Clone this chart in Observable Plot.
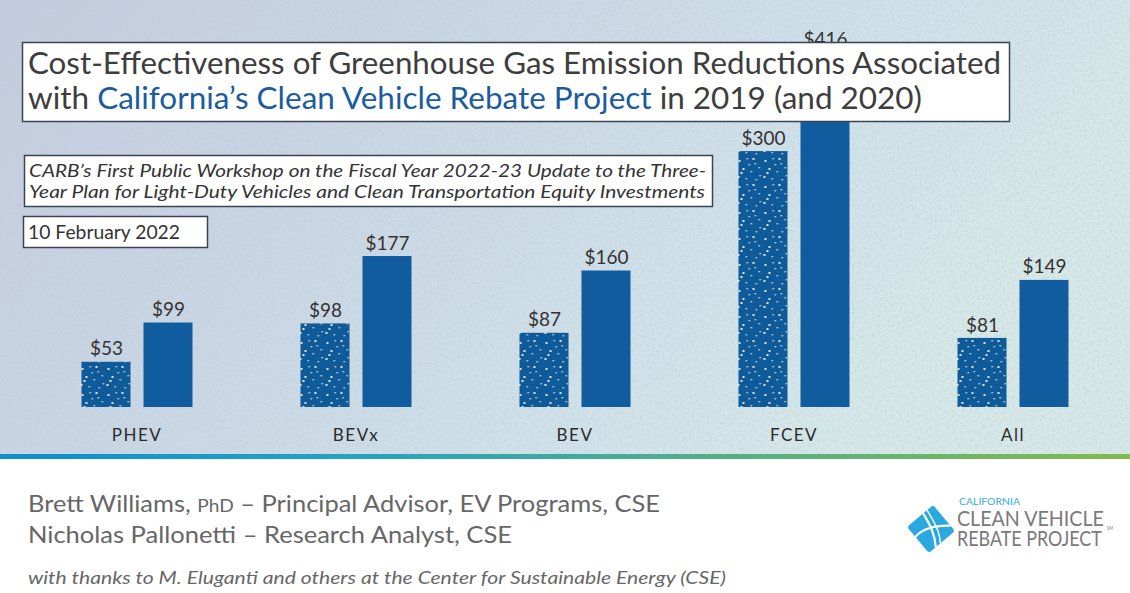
<!DOCTYPE html>
<html>
<head>
<meta charset="utf-8">
<script src="https://cdn.jsdelivr.net/npm/d3@7"></script>
<script src="https://cdn.jsdelivr.net/npm/@observablehq/plot@0.6"></script>
<style>
  html, body { margin: 0; padding: 0; background: #ffffff; }
  #stage { position: relative; width: 1130px; height: 593px; overflow: hidden; background: #ffffff; font-family: Lato, "Open Sans", sans-serif; }
  #bg, #chart, #overlay { position: absolute; left: 0; top: 0; }
  #overlay { pointer-events: none; }
  #chart svg { overflow: visible; }
</style>
</head>
<body>
<div id="stage">
  <svg id="bg" width="1130" height="593"></svg>
  <div id="chart"></div>
  <svg id="overlay" width="1130" height="593"></svg>
</div>
<script>
// ---------------- data ----------------
const categories = ["PHEV", "BEVx", "BEV", "FCEV", "All"];
const years = ["2019", "2020"];
const values2019 = [53, 98, 87, 300, 81];
const values2020 = [99, 177, 160, 416, 149];

const titleLine1 = "Cost-Effectiveness of Greenhouse Gas Emission Reductions Associated";
const titleLine2Pre = "with ";
const titleLine2Blue = "California\u2019s Clean Vehicle Rebate Project";
const titleLine2Post = " in 2019 (and 2020)";
const subtitleLines = [
  "CARB\u2019s First Public Workshop on the Fiscal Year 2022-23 Update to the Three-",
  "Year Plan for Light-Duty Vehicles and Clean Transportation Equity Investments"
];
const dateText = "10 February 2022";
const author1 = ["Brett Williams, ", "PhD", " \u2013 Principal Advisor, EV Programs, CSE"];
const author2 = "Nicholas Pallonetti \u2013 Research Analyst, CSE";
const thanks = "with thanks to M. Eluganti and others at the Center for Sustainable Energy (CSE)";
const logoLines = ["CALIFORNIA", "CLEAN VEHICLE", "REBATE PROJECT", "SM"];

const rows = categories.flatMap((c, i) => [
  {cat: c, year: years[0], value: values2019[i]},
  {cat: c, year: years[1], value: values2020[i]}
]);

// ---------------- background ----------------
const bg = d3.select("#bg");
const bdefs = bg.append("defs");
const lg = bdefs.append("linearGradient").attr("id", "bgGrad").attr("x1", "0").attr("y1", "0").attr("x2", "1").attr("y2", "0.35");
[["0%", "#c4cbdf"], ["40%", "#c9d7e5"], ["75%", "#d0e2ea"], ["100%", "#d6e9e8"]].forEach(([o, c]) => lg.append("stop").attr("offset", o).attr("stop-color", c));
const strip = bdefs.append("linearGradient").attr("id", "stripGrad");
[["0%", "#0a8fd2"], ["30%", "#22a2c4"], ["60%", "#4daf8c"], ["100%", "#82ba4b"]].forEach(([o, c]) => strip.append("stop").attr("offset", o).attr("stop-color", c));
const noise = bdefs.append("filter").attr("id", "noise").attr("x", 0).attr("y", 0).attr("width", "100%").attr("height", "100%");
noise.append("feTurbulence").attr("type", "fractalNoise").attr("baseFrequency", "0.4").attr("numOctaves", 2).attr("seed", 3);
noise.append("feColorMatrix").attr("type", "matrix").attr("values", "0 0 0 0 0.55  0 0 0 0 0.6  0 0 0 0 0.65  0 0 0 -2.6 1.5");
bg.append("rect").attr("x", 0).attr("y", 0).attr("width", 1130).attr("height", 456).attr("fill", "url(#bgGrad)");
bg.append("rect").attr("x", 0).attr("y", 0).attr("width", 1130).attr("height", 456).attr("filter", "url(#noise)").attr("opacity", 0.45);
bg.append("rect").attr("x", 0).attr("y", 454).attr("width", 1130).attr("height", 5).attr("fill", "url(#stripGrad)");

// ---------------- chart ----------------
const barBlue = "#105c9e";
const chart = Plot.plot({
  width: 1130,
  height: 460,
  marginLeft: 26.5,
  marginRight: 8.5,
  marginTop: 0,
  marginBottom: 53,
  style: {background: "transparent", fontFamily: "Lato, 'Open Sans', sans-serif", color: "#333333", overflow: "visible"},
  fx: {domain: categories, padding: 0, label: null},
  x: {domain: years, paddingInner: 0.21, paddingOuter: 0.871, axis: null},
  y: {domain: [0, 400], range: [407, 65.8], axis: null},
  marks: [
    Plot.barY(rows.filter(d => d.year === years[0]), {fx: "cat", x: "year", y: "value", fill: "url(#dots)"}),
    Plot.barY(rows.filter(d => d.year === years[1]), {fx: "cat", x: "year", y: "value", fill: barBlue}),
    Plot.text(rows, {fx: "cat", x: "year", y: "value", text: d => "$" + d.value, dy: -13, fontSize: 19, fill: "#333333"}),
    Plot.axisFx({anchor: "bottom", tickSize: 0, tickPadding: 21, fontSize: 17, label: null, fill: "#2b2b2b"})
  ]
});
document.getElementById("chart").appendChild(chart);

// dotted pattern for 2019 bars
const svgSel = d3.select(chart.tagName.toLowerCase() === "svg" ? chart : chart.querySelector("svg"));
const pdefs = svgSel.insert("defs", ":first-child");
const pat = pdefs.append("pattern").attr("id", "dots").attr("patternUnits", "userSpaceOnUse").attr("width", 26).attr("height", 26);
pat.append("rect").attr("width", 26).attr("height", 26).attr("fill", "#0f5a99");
const dotPts = [[3,4],[11,2],[19,7],[7,12],[15,15],[23,11],[2,20],[10,22],[20,23],[17,2],[13,8],[24,19],[5,16]];
dotPts.forEach(([x, y], i) => pat.append("rect").attr("x", x).attr("y", y).attr("width", i % 3 === 0 ? 2 : 1.4).attr("height", i % 3 === 0 ? 2 : 1.4).attr("fill", "#ffffff").attr("opacity", 0.85));
svgSel.selectAll("g[aria-label='fx-axis tick label'] text").style("letter-spacing", "1.5px");

// ---------------- overlay: boxes and texts ----------------
const ov = d3.select("#overlay");
const ink = "#3d3d3d";
function box(x, y, w, h) {
  ov.append("rect").attr("x", x).attr("y", y).attr("width", w).attr("height", h)
    .attr("fill", "#ffffff").attr("stroke", "#3a4552").attr("stroke-width", 1.5);
}
function line(x, y, size, width, opts = {}) {
  const t = ov.append("text").attr("x", x).attr("y", y)
    .attr("font-size", size).attr("fill", opts.fill || ink)
    .attr("font-family", "Lato, 'Open Sans', sans-serif")
    .attr("font-style", opts.italic ? "italic" : "normal");
  if (width) t.attr("textLength", width).attr("lengthAdjust", "spacingAndGlyphs");
  return t;
}
// text squeezed horizontally with a transform so its real box matches its drawn width
function fitted(x, y, size, width, str, fill) {
  const g = ov.append("g").attr("transform", `translate(${x},${y})`);
  const t = g.append("text").attr("x", 0).attr("y", 0).attr("font-size", size).attr("fill", fill)
    .attr("font-family", "Lato, 'Open Sans', sans-serif").text(str);
  const w = t.node().getComputedTextLength() || width;
  g.attr("transform", `translate(${x},${y}) scale(${width / w},1)`);
  return t;
}
// title
box(22.5, 42.5, 987, 79);
line(28, 74, 31, 973).text(titleLine1);
const t2 = line(28, 109, 31, 894);
t2.append("tspan").text(titleLine2Pre);
t2.append("tspan").attr("fill", "#1b5c9f").text(titleLine2Blue);
t2.append("tspan").text(titleLine2Post);
// subtitle
box(24.5, 155.5, 688, 51);
line(29, 177, 17.5, 677, {italic: true, fill: "#333333"}).text(subtitleLines[0]);
line(29, 198, 17.5, 676, {italic: true, fill: "#333333"}).text(subtitleLines[1]);
// date
box(23.5, 216.5, 184, 31);
line(28, 239, 19.5, 152, {fill: "#333333"}).text(dateText);
// authors
const grey = "#666666";
const a1 = line(28, 512, 24, 632, {fill: grey});
a1.append("tspan").text(author1[0]);
a1.append("tspan").attr("font-size", 18).text(author1[1]);
a1.append("tspan").text(author1[2]);
line(28, 543, 24, 484, {fill: grey}).text(author2);
line(28, 584, 17, 698, {italic: true, fill: grey}).text(thanks);

// logo
const logo = ov.append("g");
const icon = logo.append("g").attr("transform", "translate(931,529) rotate(-40)");
icon.append("rect").attr("x", -17).attr("y", -17).attr("width", 34).attr("height", 34).attr("rx", 3).attr("fill", "#2aa8e0");
icon.append("path").attr("d", "M-17,-4 C-4,-6 8,2 17,10").attr("fill", "none").attr("stroke", "#ffffff").attr("stroke-width", 2.2);
icon.append("path").attr("d", "M4,-17 C2,-4 0,6 -8,17").attr("fill", "none").attr("stroke", "#ffffff").attr("stroke-width", 2.2);
icon.append("path").attr("d", "M9,-17 C7,-3 5,8 -2,17").attr("fill", "none").attr("stroke", "#ffffff").attr("stroke-width", 1.5);
fitted(959, 505, 9.5, 61, logoLines[0], "#35abe0");
fitted(957, 526, 21, 147, logoLines[1], "#7a7a7a");
fitted(957, 546, 21, 145, logoLines[2], "#7a7a7a");
fitted(1107, 530, 5, 6, logoLines[3], "#7a7a7a");
</script>
</body>
</html>
